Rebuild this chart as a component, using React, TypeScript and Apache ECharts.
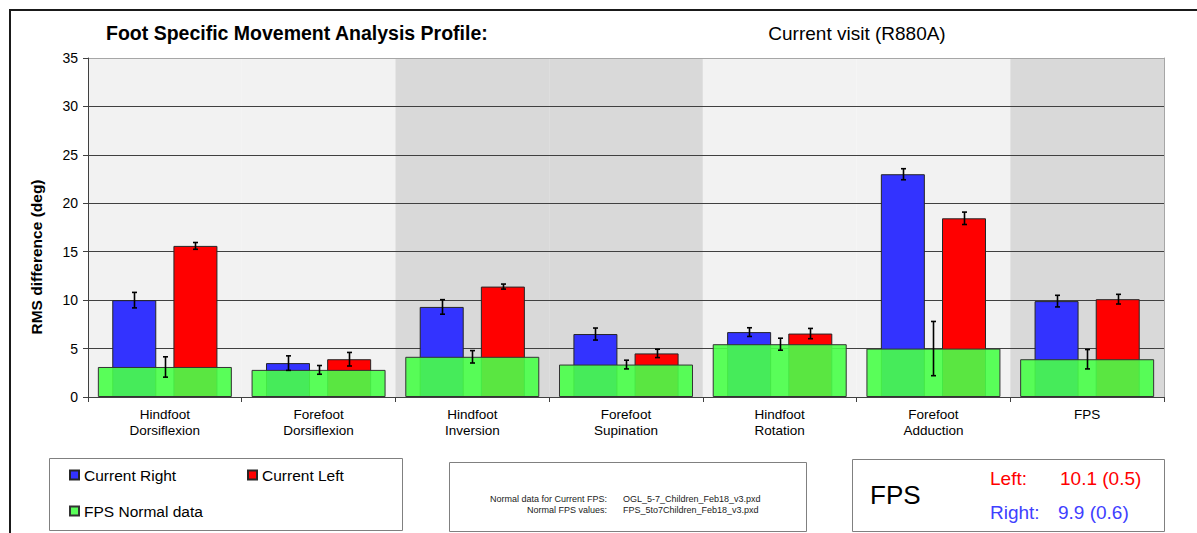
import React, { useEffect, useRef } from "react";
import * as echarts from "echarts";

const categories = [
  "Hindfoot\nDorsiflexion",
  "Forefoot\nDorsiflexion",
  "Hindfoot\nInversion",
  "Forefoot\nSupination",
  "Hindfoot\nRotation",
  "Forefoot\nAdduction",
  "FPS",
];
const currentRight = [10.0, 3.5, 9.3, 6.5, 6.7, 23.0, 9.9];
const currentRightSD = [0.8, 0.75, 0.75, 0.62, 0.45, 0.57, 0.6];
const currentLeft = [15.6, 3.9, 11.4, 4.5, 6.55, 18.45, 10.1];
const currentLeftSD = [0.35, 0.7, 0.26, 0.43, 0.53, 0.64, 0.5];
const normalFPS = [3.1, 2.8, 4.15, 3.35, 5.45, 5.0, 3.9];
const normalFPSSD = [1.05, 0.45, 0.64, 0.45, 0.62, 2.8, 1.0];
const bandShades = ["light", "light", "dark", "dark", "light", "light", "dark"];
const yTicks = { min: 0, max: 35, interval: 5 };

const FONT = '"Liberation Sans", Arial, sans-serif';
const BAR_W = 44;
const BAR_GAP = 0.39;
const GREEN_W = 134;
const SHADE: Record<string, string> = { light: "#f2f2f2", dark: "#d9d9d9" };

export default function App() {
  const ref = useRef<HTMLDivElement>(null);
  useEffect(() => {
    if (!ref.current) return;
    const chart = echarts.init(ref.current, undefined, { renderer: "svg" });
    const off = (BAR_W + BAR_W * BAR_GAP) / 2;
    const errData: number[][] = [];
    categories.forEach((_, i) => {
      errData.push([i, currentRight[i], currentRightSD[i], -off]);
      errData.push([i, currentLeft[i], currentLeftSD[i], off]);
      errData.push([i, normalFPS[i], normalFPSSD[i], 0]);
    });
    const splitColors: string[] = [];
    for (let v = yTicks.min; v <= yTicks.max; v += yTicks.interval)
      splitColors.push(v === yTicks.max ? "#a6a6a6" : "#404040");

    const legendBase = {
      selectedMode: false,
      icon: "rect",
      itemWidth: 9,
      itemHeight: 9,
      padding: 0,
      itemGap: 8,
      textStyle: { fontFamily: FONT, fontSize: 15.5, color: "#000" },
    };

    const txt = (
      text: string,
      x: number,
      y: number,
      size: number,
      color: string,
      align = "left",
      weight = "normal",
      extra: any = {}
    ) => ({
      type: "text",
      x,
      y,
      silent: true,
      ...extra,
      style: {
        text,
        fill: color,
        font: `${weight} ${size}px ${FONT}`,
        align,
        textAlign: align,
        verticalAlign: "middle",
        textVerticalAlign: "middle",
      },
    });
    const box = (x1: number, y1: number, x2: number, y2: number) => ({
      type: "rect",
      silent: true,
      shape: { x: x1 + 0.5, y: y1 + 0.5, width: x2 - x1, height: y2 - y1 },
      style: { fill: "#fff", stroke: "#808080", lineWidth: 1 },
      z: -1,
    });

    chart.setOption({
      animation: false,
      backgroundColor: "#fff",
      grid: { left: 88, top: 58, right: 33, bottom: 136, containLabel: false },
      xAxis: [
        {
          type: "category",
          data: categories,
          z: 1,
          axisLine: { lineStyle: { color: "#404040", width: 1 } },
          axisTick: { show: true, length: 5, lineStyle: { color: "#404040" } },
          axisLabel: {
            fontFamily: FONT,
            fontSize: 13.5,
            color: "#000",
            lineHeight: 16,
            margin: 9,
            interval: 0,
          },
        },
        { type: "category", data: categories, show: false },
        { type: "category", data: categories, show: false },
      ],
      yAxis: [
        {
          type: "value",
          min: yTicks.min,
          max: yTicks.max,
          interval: yTicks.interval,
          z: 1,
          axisLine: { show: true, lineStyle: { color: "#404040" } },
          axisTick: { show: true, length: 5, lineStyle: { color: "#404040" } },
          axisLabel: { fontFamily: FONT, fontSize: 14, color: "#000", margin: 10 },
          splitLine: { show: true, lineStyle: { color: splitColors, width: 1 } },
        },
        {
          type: "value",
          position: "right",
          min: yTicks.min,
          max: yTicks.max,
          interval: yTicks.interval,
          z: 1,
          axisLine: { show: true, lineStyle: { color: "#a6a6a6" } },
          axisTick: { show: false },
          axisLabel: { show: false },
          splitLine: { show: false },
        },
      ],
      legend: [
        { ...legendBase, data: ["Current Right"], left: 69, top: 467 },
        { ...legendBase, data: ["Current Left"], left: 247, top: 467 },
        { ...legendBase, data: ["FPS Normal data"], left: 69, top: 503 },
      ],
      series: [
        {
          name: "bg",
          type: "bar",
          xAxisIndex: 2,
          yAxisIndex: 0,
          z: 0,
          silent: true,
          barWidth: "100%",
          barCategoryGap: "0%",
          data: bandShades.map((s) => ({
            value: yTicks.max,
            itemStyle: { color: SHADE[s] },
          })),
        },
        {
          name: "Current Right",
          type: "bar",
          xAxisIndex: 0,
          z: 2,
          barWidth: BAR_W,
          barGap: `${BAR_GAP * 100}%`,
          itemStyle: { color: "#3333ff", borderColor: "#262626", borderWidth: 1 },
          data: currentRight,
        },
        {
          name: "Current Left",
          type: "bar",
          xAxisIndex: 0,
          z: 2,
          barWidth: BAR_W,
          barGap: `${BAR_GAP * 100}%`,
          itemStyle: { color: "#ff0000", borderColor: "#262626", borderWidth: 1 },
          data: currentLeft,
        },
        {
          name: "FPS Normal data",
          type: "bar",
          xAxisIndex: 1,
          z: 3,
          barWidth: GREEN_W,
          itemStyle: {
            color: "rgba(72,255,72,0.9)",
            borderColor: "#333333",
            borderWidth: 1,
          },
          data: normalFPS,
        },
        {
          name: "err",
          type: "custom",
          xAxisIndex: 0,
          z: 4,
          silent: true,
          encode: { x: 0, y: 1 },
          data: errData,
          renderItem: (params: any, api: any) => {
            const i = api.value(0);
            const v = api.value(1);
            const sd = api.value(2);
            const dx = api.value(3);
            const top = api.coord([i, v + sd]);
            const bot = api.coord([i, v - sd]);
            const x = Math.round(top[0] + dx) + 0.5;
            const cw = 2.5;
            const st = { stroke: "#000", lineWidth: 1.6 };
            return {
              type: "group",
              children: [
                { type: "line", shape: { x1: x, y1: top[1], x2: x, y2: bot[1] }, style: st },
                { type: "line", shape: { x1: x - cw, y1: top[1], x2: x + cw, y2: top[1] }, style: st },
                { type: "line", shape: { x1: x - cw, y1: bot[1], x2: x + cw, y2: bot[1] }, style: st },
              ],
            };
          },
        },
      ],
      graphic: [
        {
          type: "polyline",
          silent: true,
          shape: { points: [[10, 533], [10, 10], [1197, 10]] },
          style: { stroke: "#1a1a1a", lineWidth: 2, fill: null },
        },
        txt("Foot Specific Movement Analysis Profile:", 106, 33, 19.5, "#000", "left", "bold"),
        txt("Current visit (R880A)", 857, 33, 19, "#000", "center"),
        txt("RMS difference (deg)", 36, 257, 15.5, "#000", "center", "bold", {
          rotation: Math.PI / 2,
        }),
        box(49, 458, 402, 530),
        box(449, 462, 806, 531),
        box(852, 459, 1164, 531),
        txt("Normal data for Current FPS:", 607, 499, 9, "#222", "right"),
        txt("Normal FPS values:", 607, 510, 9, "#222", "right"),
        txt("OGL_5-7_Children_Feb18_v3.pxd", 623, 499, 9, "#222", "left"),
        txt("FPS_5to7Children_Feb18_v3.pxd", 623, 510, 9, "#222", "left"),
        txt("FPS", 870, 495, 26, "#000", "left"),
        txt("Left:", 990, 478, 19, "#ff0000", "left"),
        txt("10.1 (0.5)", 1060, 478, 19, "#ff0000", "left"),
        txt("Right:", 990, 512, 19, "#4040ff", "left"),
        txt("9.9 (0.6)", 1058, 512, 19, "#4040ff", "left"),
      ],
    });
    return () => chart.dispose();
  }, []);
  return (
    <div
      ref={ref}
      style={{ position: "absolute", left: 0, top: 0, width: 1197, height: 533 }}
    />
  );
}
